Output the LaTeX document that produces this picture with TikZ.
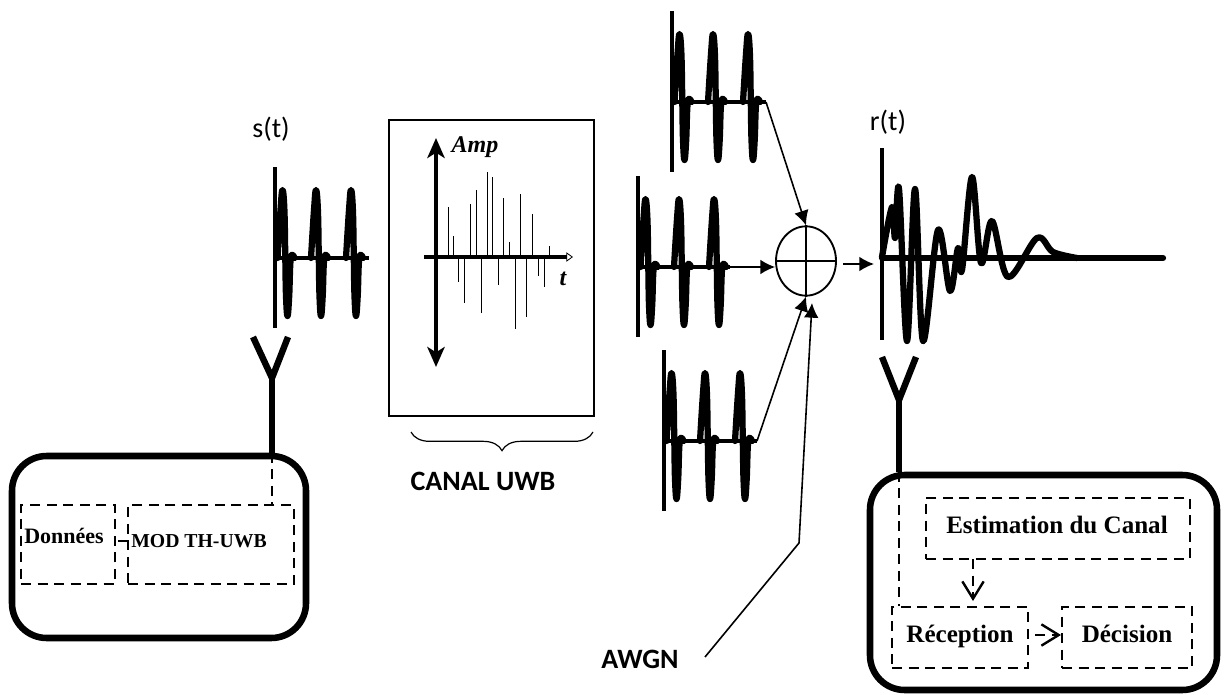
\documentclass[tikz,border=0pt]{standalone}
\usepackage{fontspec}
\setmainfont{Liberation Serif}
\newfontfamily\carl{Carlito}
\usetikzlibrary{arrows.meta,shapes.geometric,fit,decorations.pathreplacing}
\tikzset{
  wave/.style={line width=4.7pt,line cap=round,line join=round},
  axisline/.style={line width=2.6pt},
  baseline/.style={line width=2.8pt},
  conn/.style={line width=1.2pt,-{Latex[length=11pt,width=11pt]}},
  thick box/.style={draw,line width=4.9pt,rounded corners=26pt,inner sep=0pt},
  dbox/.style={draw,line width=1.8pt,dash pattern=on 7.5pt off 4.9pt,inner sep=0pt},
  dline/.style={line width=1.8pt,dash pattern=on 7.5pt off 4.9pt},
  ant/.style={line width=4.8pt},
  tip v/.style={-{Straight Barb[length=13pt,width=16pt,line width=1.8pt]}},
  sertext/.style={font=\bfseries\fontsize{18.8}{22}\selectfont,inner sep=0pt,anchor=base},
  caltext/.style={font=\carl\fontsize{21}{24}\selectfont,inner sep=0pt},
  calbold/.style={font=\carl\bfseries\fontsize{21}{24}\selectfont,inner sep=0pt,anchor=base},
  spike/.style={line width=0.75pt},
}
\newcommand{\onepulse}[2]{%
  \draw[wave,shift={(#1,#2)}] plot[smooth,tension=0.7] coordinates
   {(-5,0)(-2,-48)(0,-68)(1.9,-48)(2.8,0)(3.5,38)(5,58)(6.7,38)(8.3,0)(12,0)};}
\newcommand{\wavepic}[4]{%
  \draw[axisline] (#1,#2-91) -- (#1,#2+70);
  \coordinate (#4) at (#3,#2);
  \draw[baseline] (#1,#2) -- (#4);
  \onepulse{#1+7.5}{#2}\onepulse{#1+41}{#2}\onepulse{#1+76}{#2}}
\begin{document}
\begin{tikzpicture}[x=0.75pt,y=-0.75pt]
\useasboundingbox (0,0) rectangle (1224,695);

% waves
\wavepic{275}{258}{369}{wsend}
\wavepic{672}{102}{766}{wtop}
\wavepic{638}{267}{730}{wmid}
\wavepic{664}{441}{757}{wbot}

% summing node
\node[draw,ellipse,line width=1.4pt,minimum width=45pt,minimum height=52pt,inner sep=0pt] (sum) at (806,261) {};
\draw[line width=1.2pt] (sum.north) -- (sum.south);
\draw[line width=1.2pt] (sum.west) -- (sum.east);
\draw[conn] (wtop) -- (sum.north);
\draw[conn] (wmid) -- (sum.west |- wmid);
\draw[conn] (wbot) -- (sum.south);
\coordinate (awgnA) at (705,657);
\coordinate (awgnB) at (799,543);
\coordinate (awgnC) at (812,303);
\draw[conn] (awgnA) -- (awgnB) -- (awgnC);
\coordinate (outA) at (843,264);
\coordinate (outB) at (874,264);
\draw[conn] (outA) -- (outB);

% received wave
\draw[axisline] (882,148) -- (882,340);
\coordinate (rstart) at (882,258);
\coordinate (rend) at (1163,258);
\draw[wave] plot[smooth,tension=0.55] coordinates
 {(882,257)(892,207)(895,238)(899,189)(907,341)(915,189)(923,341)(938,230)(950,291)(958,248)(962,270)(972,177)(981,263)(992,221)(1008,277)(1037,238)(1053,252)(1077,258)};
\draw[wave] (rstart) -- (rend);

% canal box
\node[draw,line width=1.25pt,fit={(389,120)(594,416)},inner sep=0pt] (canal) {};
\coordinate (vt) at (436,138);
\coordinate (vb) at (436,367);
\draw[line width=3.5pt,{Stealth[length=15pt,width=13pt,inset=4pt]}-{Stealth[length=15pt,width=13pt,inset=4pt]}] (vt) -- (vb);
\coordinate (hl) at (424,257);
\coordinate (hr) at (573,257);
\draw[line width=3.5pt,-{Triangle[open,length=5pt,width=7pt,line width=0.6pt]}] (hl) -- (hr);
\foreach \zx/\zy in {654/262,670/348,686/485,703/550,720/252,738/210,754/580,771/155,787/172,804/495,821/235,838/367,855/628,872/222,889/590,907/283,925/467,942/502,958/378}
  \draw[spike] (230+\zx/3,257) -- (230+\zx/3,120+\zy/3);
\node[font=\bfseries\itshape\fontsize{18}{20}\selectfont,inner sep=0pt,anchor=base] (amp) at (475,153) {Amp};
\node[font=\bfseries\itshape\fontsize{18}{20}\selectfont,inner sep=0pt,anchor=base] (tlabel) at (563,286) {t};
\coordinate (brL) at (411,432);
\coordinate (brR) at (593,432);
\draw[line width=0.9pt,decorate,decoration={brace,mirror,amplitude=14pt}] (brL) -- (brR);
\node[calbold] (canaltxt) at (483,490) {CANAL UWB};
\node[calbold] (awgn) at (640,668) {AWGN};
\node[caltext] (st) at (271,129) {s(t)};
\node[caltext] (rt) at (888,122) {r(t)};

% transmitter
\coordinate (tl) at (253,337);
\coordinate (tj) at (272,378);
\coordinate (tr) at (288,337);
\node[thick box,fit={(12,456)(306,638)}] (tx) {};
\draw[ant] (tl) -- (tj) -- (tr);
\draw[ant] (tj) -- (tj |- tx.north);
\node[dbox,fit={(21,505)(115,584)}] (data) {};
\node[dbox,fit={(128,505)(294,584)}] (mod) {};
\draw[dline] (tj |- tx.north) -- (tj |- mod.north);
\coordinate (cA) at (118,541);
\draw[line width=2.2pt] (cA) -- (mod.west |- cA);
\node[font=\bfseries\fontsize{16.5}{20}\selectfont,inner sep=0pt,anchor=base] (datatxt) at (64,543) {Données};
\node[font=\bfseries\fontsize{14.8}{18}\selectfont,inner sep=0pt,anchor=base] (modtxt) at (199,547) {MOD TH-UWB};

% receiver
\coordinate (rl) at (882,357);
\coordinate (rj) at (899,400);
\coordinate (rr) at (916,357);
\node[thick box,fit={(870,475)(1217,690)}] (rx) {};
\draw[ant] (rl) -- (rj) -- (rr);
\draw[ant] (rj) -- (rj |- rx.north);
\node[dbox,fit={(926,498)(1190,559)}] (est) {};
\node[dbox,fit={(892,607)(1028,668)}] (rec) {};
\node[dbox,fit={(1062,607)(1192,668)}] (dec) {};
\draw[dline] (rj |- rx.north) -- (rj |- rec.north);
\coordinate (eA) at (973,559);
\coordinate (eB) at (973,601);
\draw[dline,tip v] (eA) -- (eB);
\coordinate (rA) at (1035,635);
\coordinate (rB) at (1061,635);
\draw[dline,tip v] (rA) -- (rB);
\node[sertext] (esttxt) at (1057,533) {Estimation du Canal};
\node[sertext] (rectxt) at (960,642) {Réception};
\node[sertext] (dectxt) at (1127,642) {Décision};
\end{tikzpicture}
\end{document}
